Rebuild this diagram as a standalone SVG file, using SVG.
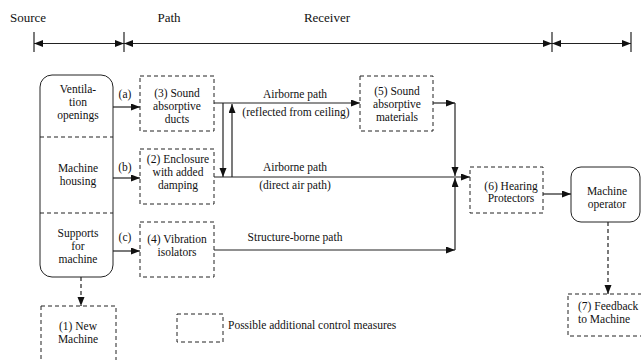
<svg xmlns="http://www.w3.org/2000/svg" width="641" height="360" viewBox="0 0 641 360">
<style>
text{font-family:"Liberation Serif","Times New Roman",serif;font-size:11.5px;fill:#111}
.h{font-size:13px}
.m{text-anchor:middle}
.box{fill:#fff;stroke:#222;stroke-width:1}
.d{fill:#fff;stroke:#222;stroke-width:1;stroke-dasharray:4,3}
.ln{fill:none;stroke:#222;stroke-width:1.2}
.dl{fill:none;stroke:#222;stroke-width:1.2;stroke-dasharray:4,3}
.a{marker-end:url(#ah)}
</style>
<defs>
<marker id="ah" markerUnits="userSpaceOnUse" markerWidth="10" markerHeight="8" refX="9" refY="3.5" orient="auto"><path d="M0,0 L9,3.5 L0,7 z" fill="#111"/></marker>
<marker id="as" markerUnits="userSpaceOnUse" markerWidth="10" markerHeight="8" refX="9" refY="3.5" orient="auto-start-reverse"><path d="M0,0 L9,3.5 L0,7 z" fill="#111"/></marker>
</defs>
<g id="header">
<text class="h" x="10" y="22">Source</text>
<text class="h m" x="169" y="22">Path</text>
<text class="h m" x="327" y="22">Receiver</text>
<g class="ln" stroke="#333">
<line x1="34" y1="32" x2="34" y2="52"/>
<line x1="124" y1="32" x2="124" y2="52"/>
<line x1="552" y1="32" x2="552" y2="52"/>
<line x1="631" y1="32" x2="631" y2="52"/>
<line x1="34" y1="43.5" x2="124" y2="43.5" marker-start="url(#as)" marker-end="url(#as)"/>
<line x1="124" y1="43.5" x2="552" y2="43.5" marker-start="url(#as)" marker-end="url(#as)"/>
<line x1="552" y1="43.5" x2="631" y2="43.5" marker-start="url(#as)" marker-end="url(#as)"/>
</g>
</g>
<g id="source">
<rect class="box" x="40" y="75" width="73" height="202" rx="12"/>
<line class="dl" x1="40" y1="137" x2="113" y2="137" stroke-width="1"/>
<line class="dl" x1="40" y1="213" x2="113" y2="213" stroke-width="1"/>
<text class="m" x="78" y="93">Ventila-</text>
<text class="m" x="78" y="106">tion</text>
<text class="m" x="78" y="119">openings</text>
<text class="m" x="78" y="172">Machine</text>
<text class="m" x="78" y="185">housing</text>
<text class="m" x="78" y="237">Supports</text>
<text class="m" x="78" y="250">for</text>
<text class="m" x="78" y="263">machine</text>
</g>
<g id="n3">
<rect class="d" x="140" y="76" width="74" height="55"/>
<text class="m" x="177" y="97">(3) Sound</text>
<text class="m" x="177" y="110">absorptive</text>
<text class="m" x="177" y="123">ducts</text>
</g>
<g id="n2">
<rect class="d" x="140" y="149" width="74" height="55"/>
<text class="m" x="178" y="163">(2) Enclosure</text>
<text class="m" x="178" y="176">with added</text>
<text class="m" x="178" y="189">damping</text>
</g>
<g id="n4">
<rect class="d" x="140" y="222" width="74" height="55"/>
<text class="m" x="177" y="243">(4) Vibration</text>
<text class="m" x="177" y="256">isolators</text>
</g>
<g id="n5">
<rect class="d" x="360" y="76" width="73" height="55"/>
<text class="m" x="397" y="95">(5) Sound</text>
<text class="m" x="397" y="108">absorptive</text>
<text class="m" x="397" y="121">materials</text>
</g>
<g id="n6">
<rect class="d" x="470" y="167" width="73" height="46"/>
<text class="m" x="511" y="190">(6) Hearing</text>
<text class="m" x="511" y="202">Protectors</text>
</g>
<g id="operator">
<rect class="box" x="571" y="167" width="69" height="55" rx="10"/>
<text class="m" x="607" y="195">Machine</text>
<text class="m" x="607" y="208">operator</text>
</g>
<g id="n7">
<rect class="d" x="568" y="294" width="80" height="42"/>
<text x="578" y="310">(7) Feedback</text>
<text x="578" y="323">to Machine</text>
</g>
<g id="n1">
<rect class="d" x="41" y="306" width="75" height="60"/>
<text class="m" x="78" y="330">(1) New</text>
<text class="m" x="78" y="343">Machine</text>
</g>
<g id="legend">
<rect class="d" x="177" y="314" width="46" height="28"/>
<text x="228" y="329">Possible additional control measures</text>
</g>
<g id="connectors">
<line class="ln a" x1="113" y1="107" x2="140" y2="107"/>
<line class="ln a" x1="113" y1="178" x2="140" y2="178"/>
<line class="ln a" x1="113" y1="251" x2="140" y2="251"/>
<line class="ln a" x1="214" y1="103" x2="360" y2="103"/>
<line class="ln a" x1="223" y1="103" x2="223" y2="177"/>
<line class="ln a" x1="232" y1="177" x2="232" y2="104"/>
<line class="ln a" x1="214" y1="177" x2="470" y2="177"/>
<line class="ln a" x1="433" y1="103" x2="455" y2="103"/>
<line class="ln a" x1="455" y1="103" x2="455" y2="176"/>
<line class="ln a" x1="214" y1="250" x2="455" y2="250"/>
<line class="ln a" x1="455" y1="250" x2="455" y2="178"/>
<line class="ln a" x1="543" y1="194" x2="571" y2="194"/>
<line class="dl a" x1="81" y1="277" x2="81" y2="306"/>
<line class="dl a" x1="608" y1="222" x2="608" y2="294"/>
<text class="m" x="125" y="98">(a)</text>
<text class="m" x="125" y="171">(b)</text>
<text class="m" x="125" y="241">(c)</text>
<text class="m" x="295" y="98">Airborne path</text>
<text class="m" x="296" y="116">(reflected from ceiling)</text>
<text class="m" x="295" y="171">Airborne path</text>
<text class="m" x="295" y="189">(direct air path)</text>
<text class="m" x="295" y="241">Structure-borne path</text>
</g>
</svg>
